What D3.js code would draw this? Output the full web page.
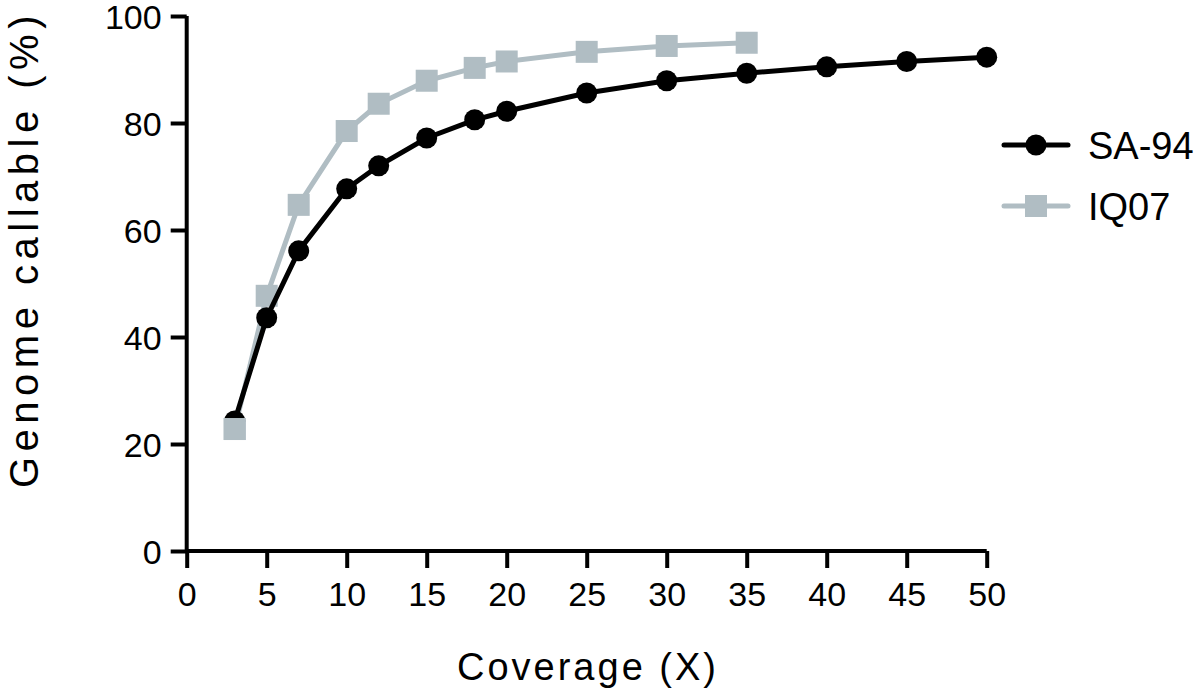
<!DOCTYPE html>
<html>
<head>
<meta charset="utf-8">
<script src="https://cdn.jsdelivr.net/npm/d3@7"></script>
<style>
  body { margin: 0; background: #fff; }
  text { font-family: "Liberation Sans", Arial, sans-serif; fill: #000; }
</style>
</head>
<body>
<svg id="chart" width="1200" height="693"></svg>
<script>
//Data
let coverage = [3, 5, 7, 10, 12, 15, 18, 20, 25, 30, 35, 40, 45, 50];
let sa94 = [24.3, 43.6, 56.1, 67.7, 72.0, 77.2, 80.6, 82.2, 85.6, 87.9, 89.3, 90.5, 91.5, 92.3];
let iqCoverage = [3, 5, 7, 10, 12, 15, 18, 20, 25, 30, 35];
let iq07 = [22.8, 47.7, 64.7, 78.5, 83.6, 87.9, 90.3, 91.5, 93.3, 94.4, 95.0];
let xTicks = [0, 5, 10, 15, 20, 25, 30, 35, 40, 45, 50];
let yTicks = [0, 20, 40, 60, 80, 100];

let svg = d3.select("#chart");

//Scales
let x = d3.scaleLinear().domain([0, 50]).range([186.7, 986.7]);
let y = d3.scaleLinear().domain([0, 100]).range([551, 16]);

//Axes
let xAxis = svg.append("g")
    .attr("transform", "translate(0,551)")
    .call(d3.axisBottom(x).tickValues(xTicks).tickSize(17).tickPadding(14));
let yAxis = svg.append("g")
    .attr("transform", "translate(186.7,0)")
    .call(d3.axisLeft(y).tickValues(yTicks).tickSize(16).tickPadding(9));

[xAxis, yAxis].forEach(g => {
    g.select(".domain").attr("stroke", "#000").attr("stroke-width", 4);
    g.selectAll(".tick line").attr("stroke", "#000").attr("stroke-width", 4);
    g.selectAll(".tick text").attr("font-size", "34px").attr("fill", "#000");
});
xAxis.select(".domain").attr("d", "M186.7,0H986.7");
yAxis.select(".domain").attr("d", "M0,551V16");
yAxis.selectAll(".tick text").attr("dy", "0.36em");

//Axis titles
svg.append("text")
    .attr("x", 588).attr("y", 680)
    .attr("text-anchor", "middle")
    .attr("font-size", "38px")
    .attr("letter-spacing", "3px")
    .text("Coverage (X)");
svg.append("text")
    .attr("transform", "translate(38,249) rotate(-90)")
    .attr("text-anchor", "middle")
    .attr("font-size", "40px")
    .attr("letter-spacing", "5.5px")
    .text("Genome callable (%)");

let line = d3.line().x(d => x(d[0])).y(d => y(d[1]));
let grey = "#b0bdc3";

//IQ07 series
let iqData = iqCoverage.map((c, i) => [c, iq07[i]]);
svg.append("path")
    .datum(iqData)
    .attr("fill", "none")
    .attr("stroke", grey)
    .attr("stroke-width", 5)
    .attr("d", line);
svg.append("g").selectAll("rect")
    .data(iqData)
    .enter().append("rect")
    .attr("x", d => x(d[0]) - 11)
    .attr("y", d => y(d[1]) - 11)
    .attr("width", 22).attr("height", 22)
    .attr("fill", grey);

//SA-94 series
let saData = coverage.map((c, i) => [c, sa94[i]]);
svg.append("path")
    .datum(saData)
    .attr("fill", "none")
    .attr("stroke", "#000")
    .attr("stroke-width", 5)
    .attr("d", line);
svg.append("g").selectAll("circle")
    .data(saData)
    .enter().append("circle")
    .attr("cx", d => x(d[0]))
    .attr("cy", d => y(d[1]))
    .attr("r", 10.5)
    .attr("fill", "#000");

// IQ07 first point sits on top of the SA-94 one at 3X
svg.append("rect")
    .attr("x", x(iqData[0][0]) - 11)
    .attr("y", y(iqData[0][1]) - 11)
    .attr("width", 22).attr("height", 22)
    .attr("fill", grey);

//Legend
let legend = [
    {name: "SA-94", color: "#000", shape: "circle", cy: 145},
    {name: "IQ07", color: grey, shape: "square", cy: 206}
];
let lg = svg.append("g").selectAll("g").data(legend).enter().append("g")
    .attr("transform", d => "translate(0," + d.cy + ")");
lg.append("line")
    .attr("x1", 1004).attr("x2", 1068)
    .attr("stroke", d => d.color)
    .attr("stroke-width", 5)
    .attr("stroke-linecap", "round");
lg.filter(d => d.shape === "circle").append("circle")
    .attr("cx", 1036).attr("r", 10.5).attr("fill", d => d.color);
lg.filter(d => d.shape === "square").append("rect")
    .attr("x", 1025).attr("y", -11).attr("width", 22).attr("height", 22)
    .attr("fill", d => d.color);
lg.append("text")
    .attr("x", 1088).attr("dy", "0.36em")
    .attr("font-size", "38px")
    .text(d => d.name);
</script>
</body>
</html>
